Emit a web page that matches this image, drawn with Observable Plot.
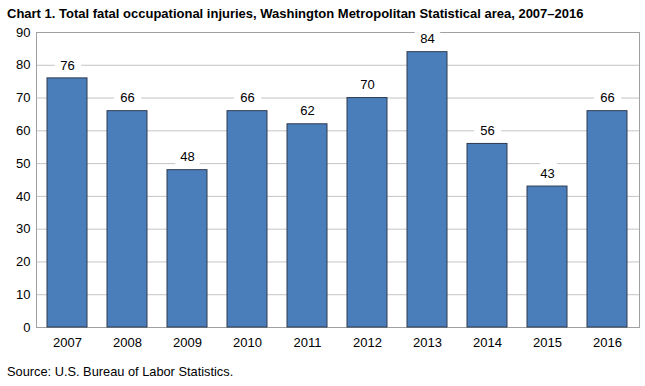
<!DOCTYPE html>
<html>
<head>
<meta charset="utf-8">
<script src="https://cdn.jsdelivr.net/npm/d3@7"></script>
<script src="https://cdn.jsdelivr.net/npm/@observablehq/plot@0.6"></script>
<style>
  body { margin: 0; background: #fff; font-family: "Liberation Sans", Arial, sans-serif; }
  #title { height: 22px; line-height: 27px; padding-left: 7px; font-weight: bold; font-size: 13px; color: #000; white-space: nowrap; }
  #caption { height: 29px; line-height: 29px; padding-left: 7px; font-size: 12.8px; color: #000; }
  svg { display: block; }
</style>
</head>
<body>
<div id="title">Chart 1. Total fatal occupational injuries, Washington Metropolitan Statistical area, 2007–2016</div>
<div id="chart"></div>
<div id="caption">Source: U.S. Bureau of Labor Statistics.</div>
<script>
const years = ["2007","2008","2009","2010","2011","2012","2013","2014","2015","2016"];
const values = [76, 66, 48, 66, 62, 70, 84, 56, 43, 66];
const yTicks = [0, 10, 20, 30, 40, 50, 60, 70, 80, 90];

const data = years.map((y, i) => ({year: y, value: values[i]}));

const chart = Plot.plot({
  width: 645,
  height: 335,
  marginTop: 10,
  marginLeft: 36,
  marginRight: 6,
  marginBottom: 30,
  style: {fontFamily: "'Liberation Sans', Arial, sans-serif", fontSize: "13px", color: "#000", background: "#fff"},
  x: {domain: years, paddingInner: 0.33, paddingOuter: 0.167, label: null, tickSize: 0, tickPadding: 10},
  y: {domain: [0, 90], ticks: yTicks, label: null, tickSize: 0, tickPadding: 6},
  marks: [
    Plot.ruleY(yTicks.slice(1, -1), {stroke: "#c4c4c4", strokeWidth: 1}),
    Plot.frame({stroke: "#a0a0a0", strokeWidth: 1}),
    Plot.text(data, {x: "year", y: "value", text: d => String(d.value), dy: -13, fill: "#000", stroke: "white", strokeWidth: 14, fontSize: 13}),
    Plot.barY(data, {x: "year", y: "value", fill: "#4a7ebb", stroke: "#2e3a4f", strokeWidth: 1})
  ]
});
document.getElementById("chart").appendChild(chart);
</script>
</body>
</html>
